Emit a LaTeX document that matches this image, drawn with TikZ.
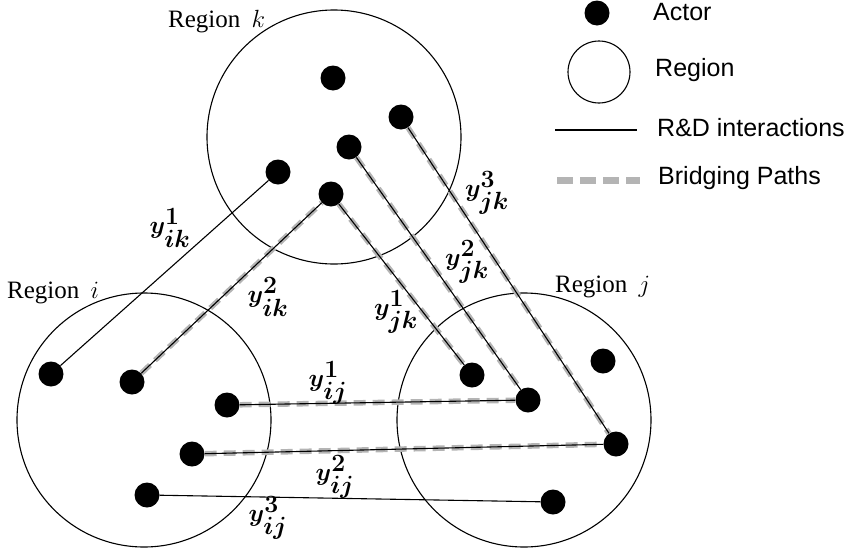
\documentclass[tikz,border=0pt]{standalone}
\usepackage{amsmath,amssymb,bm}
\usepackage{fontspec}
\setmainfont{Liberation Serif}
\newfontfamily\legendfont{Liberation Sans}
\usetikzlibrary{positioning}
\definecolor{bridgegray}{HTML}{B4B4B4}

\begin{document}
\begin{tikzpicture}[
    x=1pt, y=-1pt,
    actor/.style={circle, fill=black, inner sep=0pt, minimum size=25pt},
    region/.style={circle, draw=black, line width=1.1pt, inner sep=0pt, minimum size=254pt},
    rd/.style={black, line width=1.1pt},
    bridge/.style={bridgegray, line width=5.5pt, dash pattern=on 12pt off 7pt},
    ylabel/.style={font=\fontsize{33}{38}\selectfont},
    rlabel/.style={font=\fontsize{25}{29}\selectfont, anchor=west, inner sep=0pt},
    legtext/.style={font=\legendfont\fontsize{25}{29}\selectfont, anchor=west, inner sep=0pt},
  ]

  \useasboundingbox (0,0) rectangle (854,552);

  % === Regions ===
  \node[region] (Rk) at (334,137) {};
  \node[region] (Ri) at (144,420) {};
  \node[region] (Rj) at (524,420) {};
  \node[rlabel] at (168,22) {Region\hspace{0.45em}$k$};
  \node[rlabel] at (7,293) {Region\hspace{0.45em}$i$};
  \node[rlabel] at (555,287) {Region\hspace{0.45em}$j$};

  % === Actors ===
  \node[actor] (k1) at (333,78) {};
  \node[actor] (k2) at (401,117) {};
  \node[actor] (k3) at (349,147) {};
  \node[actor] (k4) at (278,172) {};
  \node[actor] (k5) at (331,194) {};

  \node[actor] (i1) at (51,374) {};
  \node[actor] (i2) at (132,382) {};
  \node[actor] (i3) at (227,405) {};
  \node[actor] (i4) at (192,454) {};
  \node[actor] (i5) at (147,495) {};

  \node[actor] (j1) at (472,375) {};
  \node[actor] (j2) at (528,400) {};
  \node[actor] (j3) at (603,361) {};
  \node[actor] (j4) at (616,444) {};
  \node[actor] (j5) at (553,502) {};

  % R&D interactions only
  \draw[rd] (i1) -- (k4);
  \draw[rd] (i5) -- (j5);

  % Bridging paths (gray dashes under the interaction line)
  \foreach \a/\b in {i2/k5, k5/j1, k3/j2, k2/j4, i3/j2, i4/j4} {
    \draw[bridge] (\a) -- (\b);
    \draw[rd] (\a) -- (\b);
  }

  % === Link labels ===
  \node[ylabel] at (170,228) {$\boldsymbol{y_{ik}^1}$};
  \node[ylabel] at (268,297) {$\boldsymbol{y_{ik}^2}$};
  \node[ylabel] at (396,312) {$\boldsymbol{y_{jk}^1}$};
  \node[ylabel] at (467,262) {$\boldsymbol{y_{jk}^2}$};
  \node[ylabel] at (487,193) {$\boldsymbol{y_{jk}^3}$};
  \node[ylabel] at (328,383) {$\boldsymbol{y_{ij}^1}$};
  \node[ylabel] at (335,477) {$\boldsymbol{y_{ij}^2}$};
  \node[ylabel] at (268,518) {$\boldsymbol{y_{ij}^3}$};

  % === Legend ===
  \node[actor] (legactor) at (597,13) {};
  \node[legtext] at (653,12) {Actor};
  \node[region, minimum size=62pt] (legregion) at (599,72) {};
  \node[legtext] at (655,70) {Region};
  \coordinate (rdA) at (555,130);
  \coordinate (rdB) at (637,130);
  \draw[rd] (rdA) -- (rdB);
  \node[legtext] at (657,128) {R\&D interactions};
  \coordinate (brA) at (557,180);
  \coordinate (brB) at (640,180);
  \draw[bridgegray, line width=7pt, dash pattern=on 16pt off 7pt] (brA) -- (brB);
  \node[legtext] at (658,178) {Bridging Paths};

\end{tikzpicture}
\end{document}
